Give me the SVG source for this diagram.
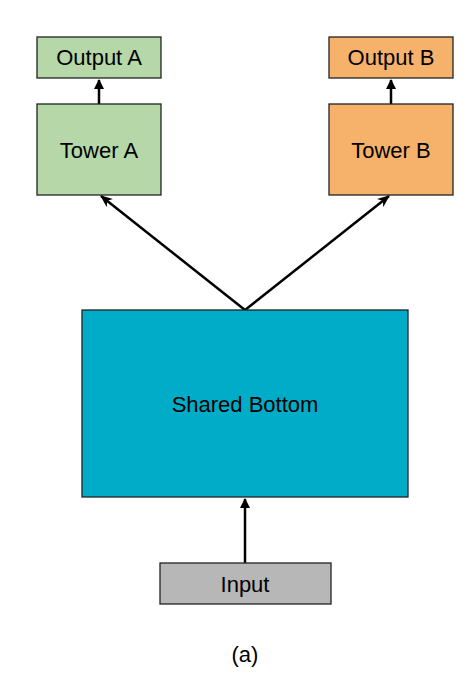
<svg xmlns="http://www.w3.org/2000/svg" width="471" height="683" viewBox="0 0 471 683">
<style>
.box{stroke:#222;stroke-width:1.3}
.lbl{font-family:"Liberation Sans",Arial,sans-serif;font-size:22px;fill:#000;text-anchor:middle}
.conn{stroke:#000;stroke-width:2.5;fill:none}
</style>
<defs>
<marker id="tri" viewBox="0 0 10 10" refX="9" refY="5" markerWidth="4" markerHeight="4.4" orient="auto" markerUnits="strokeWidth">
<path d="M0,0 L10,5 L0,10 z" fill="#000"/>
</marker>
<marker id="stealth" viewBox="0 0 12 10" refX="11" refY="5" markerWidth="5" markerHeight="4.4" orient="auto" markerUnits="strokeWidth">
<path d="M0,0 L12,5 L0,10 L3.5,5 z" fill="#000"/>
</marker>
</defs>
<rect width="471" height="683" fill="#fff"/>
<g id="connectors">
<line class="conn" x1="99" y1="104" x2="99" y2="80" marker-end="url(#tri)"/>
<line class="conn" x1="391" y1="104" x2="391" y2="80" marker-end="url(#tri)"/>
<line class="conn" x1="245" y1="310" x2="101" y2="196" marker-end="url(#stealth)"/>
<line class="conn" x1="245" y1="310" x2="389" y2="196" marker-end="url(#stealth)"/>
<line class="conn" x1="245" y1="563" x2="245" y2="499" marker-end="url(#tri)"/>
</g>
<g id="outputA"><rect class="box" x="37" y="37" width="124" height="41" fill="#b6d7a8"/><text class="lbl" x="99" y="65">Output A</text></g>
<g id="outputB"><rect class="box" x="329" y="37" width="124" height="41" fill="#f6b26b"/><text class="lbl" x="391" y="65">Output B</text></g>
<g id="towerA"><rect class="box" x="37" y="104" width="124" height="91" fill="#b6d7a8"/><text class="lbl" x="99" y="158">Tower A</text></g>
<g id="towerB"><rect class="box" x="329" y="104" width="124" height="91" fill="#f6b26b"/><text class="lbl" x="391" y="158">Tower B</text></g>
<g id="shared"><rect class="box" x="82" y="310" width="326" height="187" fill="#00acc8"/><text class="lbl" x="245" y="412">Shared Bottom</text></g>
<g id="input"><rect class="box" x="160" y="563" width="171" height="41" fill="#b7b7b7"/><text class="lbl" x="245" y="592">Input</text></g>
<text class="lbl" x="245" y="662">(a)</text>
</svg>
